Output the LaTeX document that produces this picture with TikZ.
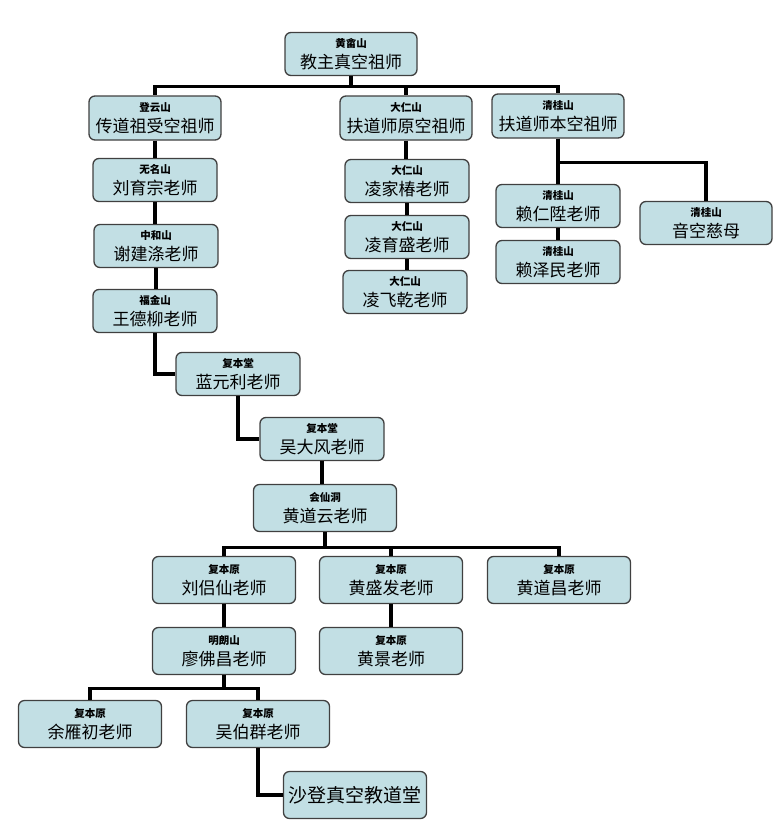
\documentclass[tikz,border=0pt]{standalone}
\usepackage{fontspec}
\setmainfont{Noto Sans CJK SC}
\begin{document}
\begin{tikzpicture}[x=1pt,y=-1pt,
  box/.style={draw=black!75, line width=1.3pt, fill=boxfill, rounded corners=6pt,
    minimum width=124pt, minimum height=43pt, align=center, inner sep=1pt},
  wide/.style={minimum width=143pt, minimum height=47pt},
  conn/.style={line width=3.3pt, draw=black}]
\definecolor{boxfill}{HTML}{C2DFE4}
\newcommand{\bx}[2]{{\fontsize{10.5}{11}\selectfont\bfseries #1}\\[5pt]{\fontsize{17}{18}\selectfont #2}}
\useasboundingbox (0,0) rectangle (782,835);
% top
\node[box, minimum width=132pt] (top) at (351,54) {\bx{黄畲山}{教主真空祖师}};
\node[box, minimum width=132pt, minimum height=44pt] (b1) at (155,118) {\bx{登云山}{传道祖受空祖师}};
\node[box, minimum width=132pt, minimum height=44pt] (b2) at (406,118) {\bx{大仁山}{扶道师原空祖师}};
\node[box, minimum width=132pt, minimum height=44pt] (b3) at (558,116) {\bx{清桂山}{扶道师本空祖师}};
% column 1
\node[box] (c1) at (155,180) {\bx{无名山}{刘育宗老师}};
\node[box] (c2) at (156,246) {\bx{中和山}{谢建涤老师}};
\node[box] (c3) at (155,311) {\bx{福金山}{王德柳老师}};
\node[box] (lan) at (238,374) {\bx{复本堂}{蓝元利老师}};
\node[box] (wu) at (322,439) {\bx{复本堂}{吴大风老师}};
\node[box, wide] (hdy) at (325,508) {\bx{会仙洞}{黄道云老师}};
\node[box, wide] (llx) at (224,580) {\bx{复本原}{刘侣仙老师}};
\node[box, wide] (hsf) at (391,580) {\bx{复本原}{黄盛发老师}};
\node[box, wide] (hdc) at (559,580) {\bx{复本原}{黄道昌老师}};
\node[box, wide] (lfc) at (224,651) {\bx{明朗山}{廖佛昌老师}};
\node[box, wide] (hj) at (391,651) {\bx{复本原}{黄景老师}};
\node[box, wide] (yyc) at (90,724) {\bx{复本原}{余雁初老师}};
\node[box, wide] (wbq) at (258,724) {\bx{复本原}{吴伯群老师}};
\node[box, wide, font=\fontsize{19}{20}\selectfont] (sha) at (355,795) {沙登真空教道堂};
% column 2
\node[box] (l1) at (407,181) {\bx{大仁山}{凌家椿老师}};
\node[box] (l2) at (407,237) {\bx{大仁山}{凌育盛老师}};
\node[box] (l3) at (405,292) {\bx{大仁山}{凌飞乾老师}};
% column 3
\node[box] (r1) at (558,206) {\bx{清桂山}{赖仁陞老师}};
\node[box] (r2) at (558,262) {\bx{清桂山}{赖泽民老师}};
\node[box, minimum width=132pt] (yk) at (706,223) {\bx{清桂山}{音空慈母}};
% connectors
\draw[conn] (top.south) -- ++(0,10) coordinate (j0) -| (b1.north);
\draw[conn] (j0) -| (b2.north);
\draw[conn] (j0) -| (b3.north);
\draw[conn] (b1.south) -- (b1.south |- c1.north);
\draw[conn] (c1.south) -- (c1.south |- c2.north);
\draw[conn] (c2.south) -- (c2.south |- c3.north);
\draw[conn] (c3.south) |- (lan.west);
\draw[conn] (lan.south) |- (wu.west);
\draw[conn] (wu.south) -- (wu.south |- hdy.north);
\draw[conn] (hdy.south) -- ++(0,15) coordinate (j1) -| (llx.north);
\draw[conn] (j1) -| (hsf.north);
\draw[conn] (j1) -| (hdc.north);
\draw[conn] (llx.south) -- (llx.south |- lfc.north);
\draw[conn] (hsf.south) -- (hsf.south |- hj.north);
\draw[conn] (lfc.south) -- ++(0,13) coordinate (j2) -| (yyc.north);
\draw[conn] (j2) -| (wbq.north);
\draw[conn] (wbq.south) |- (sha.west);
\draw[conn] (b2.south) -- (b2.south |- l1.north);
\draw[conn] (l1.south) -- (l1.south |- l2.north);
\draw[conn] (l2.south) -- (l2.south |- l3.north);
\draw[conn] (b3.south) -- (b3.south |- r1.north);
\draw[conn] (r1.south) -- (r1.south |- r2.north);
\draw[conn] (b3.south) -- ++(0,24) coordinate (j3) -| (yk.north);
\end{tikzpicture}
\end{document}
